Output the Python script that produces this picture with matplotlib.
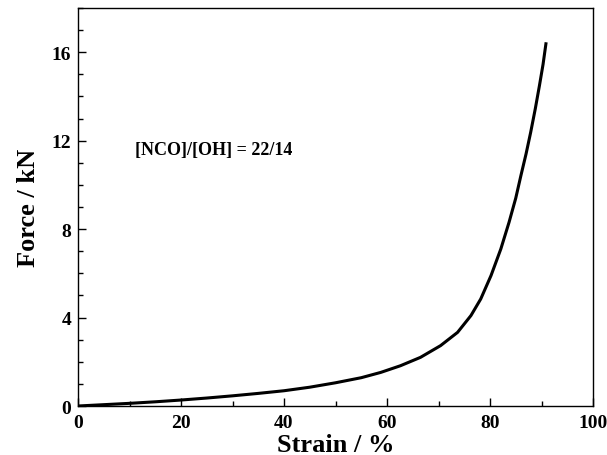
import matplotlib
matplotlib.use('Agg')
import matplotlib.pyplot as plt
from matplotlib.ticker import MultipleLocator

# values
strain = [0, 5, 10, 15, 20, 25, 30, 35, 40, 45, 50, 55, 58.8, 62.6, 66.5, 70.4, 73.7,
          76.3, 78.2, 80.2, 82.1, 83.7, 85.0, 86.0, 87.0, 87.9, 88.8, 89.6, 90.3, 90.9]
force = [0, 0.06, 0.12, 0.19, 0.27, 0.36, 0.46, 0.57, 0.69, 0.85, 1.05, 1.28, 1.52, 1.82, 2.20, 2.73, 3.33,
         4.09, 4.84, 5.90, 7.10, 8.31, 9.40, 10.42, 11.40, 12.38, 13.45, 14.49, 15.45, 16.45]

annotation = '[NCO]/[OH] = 22/14'

plt.rcParams['font.family'] = ['Liberation Serif', 'DejaVu Serif']
plt.rcParams['font.weight'] = 'bold'

fig = plt.figure(figsize=(6.07, 4.56), dpi=100)
ax = fig.add_axes([78 / 607, 1 - 407 / 456, (593 - 78) / 607, (407 - 9) / 456])

ax.plot(strain, force, color='black', linewidth=2.2, solid_capstyle='butt', solid_joinstyle='round')

ax.set_xlim(0, 100)
ax.set_ylim(0, 18)
ax.xaxis.set_major_locator(MultipleLocator(20))
ax.xaxis.set_minor_locator(MultipleLocator(10))
ax.yaxis.set_major_locator(MultipleLocator(4))
ax.yaxis.set_minor_locator(MultipleLocator(1))
ax.tick_params(which='both', direction='in', top=False, right=False, labelsize=14)
ax.tick_params(which='major', length=6, width=1)
ax.tick_params(which='minor', length=3.5, width=1)
ax.tick_params(axis='x', pad=6)
ax.tick_params(axis='y', pad=5)
for lab in ax.get_xticklabels() + ax.get_yticklabels():
    lab.set_fontweight('bold')
for sp in ax.spines.values():
    sp.set_linewidth(1)

ax.set_xlabel('Strain / %', fontsize=19, fontweight='bold', labelpad=1)
ax.set_ylabel('Force / kN', fontsize=19, fontweight='bold', labelpad=8)

ax.text(11.1, 11.6, annotation, fontsize=13, fontweight='bold', va='center', ha='left')

fig.savefig('out.png', dpi=100)
